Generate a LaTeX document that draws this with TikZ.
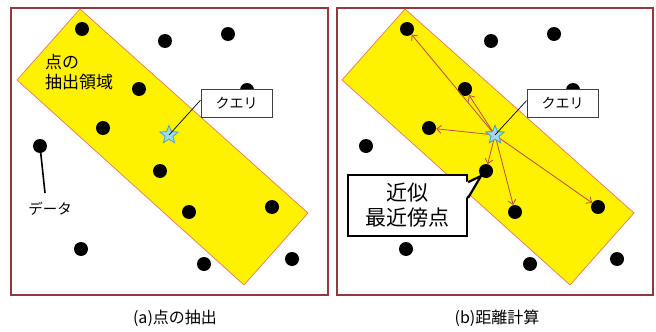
\documentclass[tikz,border=0pt]{standalone}
\usepackage{fontspec}
\setmainfont{Noto Sans CJK JP}
\usetikzlibrary{shapes.geometric,arrows.meta,calc}
\definecolor{framered}{RGB}{150,54,62}
\definecolor{bandedge}{RGB}{235,120,100}
\definecolor{arrred}{RGB}{192,72,72}
\definecolor{starfill}{RGB}{160,218,238}
\definecolor{staredge}{RGB}{70,165,200}
\tikzset{
  panel/.style={draw=framered, line width=2pt},
  band/.style={fill=yellow, draw=bandedge, line width=0.7pt},
  dot/.style={circle, fill=black, inner sep=0pt, minimum size=14pt},
  qstar/.style={star, star points=5, star point ratio=2.3, minimum size=19pt, inner sep=0pt, fill=starfill, draw=staredge, line width=0.8pt},
  qbox/.style={draw=black!75, line width=0.9pt, fill=white, minimum width=71pt, minimum height=28pt, inner sep=0pt, font=\fontsize{14}{16}\selectfont},
  ptr/.style={draw=black, line width=0.7pt},
  dist/.style={draw=arrred, line width=0.8pt, -{Straight Barb[length=4.5pt,width=8pt]}},
  bigbox/.style={draw=black, line width=2.2pt, fill=white, minimum width=119pt, minimum height=61pt, inner sep=0pt, align=center, font=\fontsize{21}{25}\selectfont},
  caption/.style={font=\fontsize{16}{18}\selectfont, inner sep=0pt},
}
\begin{document}
\begin{tikzpicture}[x=1pt,y=-1pt]
\useasboundingbox (0,0) rectangle (656,332);
% ---------- panel (a)
\draw[panel] (11,8) rectangle (328,295);
\draw[band] (80,9) -- (308,213) -- (244,285) -- (17,80) -- cycle;
\node[anchor=west, align=left, inner sep=0pt, font=\fontsize{17}{20}\selectfont] (regl) at (45,72) {点の\\抽出領域};
\foreach \n/\x/\y in {1/82/29,2/165/41,3/228/34,4/139/89,5/247/90,6/103/128,7/40/146,8/160/171,9/189/212,10/272/207,11/81/249,12/204/264,13/292/259}
  \node[dot] (a\n) at (\x,\y) {};
\node[inner sep=0pt, font=\fontsize{14.5}{16}\selectfont] (datal) at (50,209) {データ};
\coordinate (dend) at (45,193);
\draw[line width=1.6pt] (a7.center) -- (dend);
\node[qstar] (sa) at (169,135) {};
\node[qbox] (qa) at (236.5,103) {クエリ};
\draw[ptr] (sa.center) -- ($(qa.north west)!0.4!(qa.south west)$);
\node[caption] (capa) at (175,318) {(a)点の抽出};
% ---------- panel (b)
\draw[panel] (337,8) rectangle (653,295);
\draw[band] (405,9) -- (634,213) -- (570,285) -- (342,80) -- cycle;
\node[bigbox] (near) at (407.5,205.5) {近似\\最近傍点};
\coordinate (tip) at (481,176);
\coordinate (pa) at ($(near.north east)!0.13!(near.south east)$);
\coordinate (pb) at ($(near.north east)!0.38!(near.south east)$);
\fill[white] ([xshift=-2pt]pa) -- (tip) -- ([xshift=-2pt]pb) -- cycle;
\draw[line width=2.2pt, line join=round] (pa) -- (tip) -- (pb);
\foreach \n/\x/\y in {1/407/29,2/491/41,3/554/34,4/465/89,5/573/90,6/429/128,7/366/146,8/486/171,9/515/212,10/598/207,11/406/249,12/530/264,13/617/259}
  \node[dot] (b\n) at (\x,\y) {};
\node[qstar] (sb) at (495,135) {};
\foreach \t in {b1,b4,b6,b8,b9,b10}
  \draw[dist] (sb.center) -- (\t);
\node[qstar] at (sb) {};
\node[qbox] (qb) at (562.5,103.5) {クエリ};
\draw[ptr] (sb.center) -- ($(qb.north west)!0.4!(qb.south west)$);
\node[caption] (capb) at (497,318) {(b)距離計算};
\end{tikzpicture}
\end{document}
